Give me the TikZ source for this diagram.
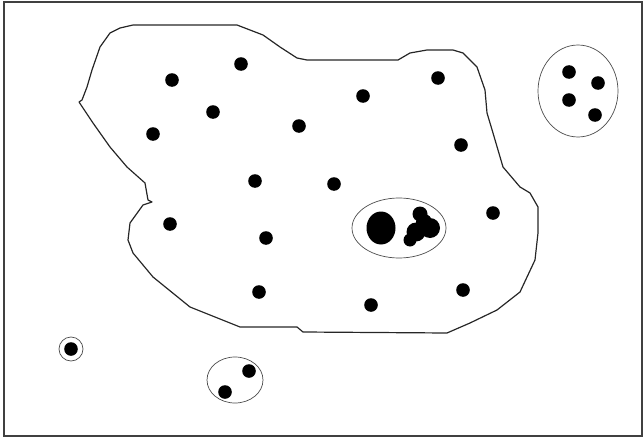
\documentclass[tikz,border=0pt]{standalone}
\usepackage{tikz}
\usetikzlibrary{calc}
\tikzset{
  frame/.style={draw=black!75,line width=1.4pt},
  region/.style={draw=black!85,line width=1.2pt,line join=round},
  grp/.style={draw=black!70,line width=0.7pt},
  pt/.style={fill=black},
}

\begin{document}
\begin{tikzpicture}[x=1pt,y=-1pt]
  \useasboundingbox (0,0) rectangle (643,439);
  \draw[frame] (4,2) rectangle (642,436);
  % the big region
  \draw[region] (133,25) -- (237,25) -- (263,35) -- (280,47) -- (297,58) -- (307,60)
    -- (398,60) -- (410,53) -- (427,50) -- (453,50) -- (463,53) -- (477,67)
    -- (485,90) -- (487,113) -- (493,133) -- (503,167) -- (520,187) -- (530,193)
    -- (538,207) -- (538,233) -- (535,260) -- (520,292) -- (497,310) -- (470,323)
    -- (447,333) -- (303,332) -- (297,327) -- (240,327) -- (210,315) -- (190,307)
    -- (153,277) -- (133,253) -- (128,240) -- (130,223) -- (143,205) -- (152,202)
    -- (148,200) -- (145,183) -- (127,167) -- (110,147) -- (93,123) -- (79,102)
    -- (82,100) -- (87,87) -- (92,70) -- (100,47) -- (110,33) -- (120,28) -- cycle;
  % single points
  \foreach \x/\y in {172/80,241/64,213/112,153/134,299/126,363/96,438/78,461/145,
    255/181,334/184,170/224,266/238,493/213,259/292,371/305,463/290}
    \fill[pt] (\x,\y) circle (6.8);
  % group top right
  \draw[grp] (578,91) ellipse (40 and 46);
  \foreach \x/\y in {569/72,598/83,569/100,595/115}
    \fill[pt] (\x,\y) circle (6.8);
  % group in the middle
  \draw[grp] (399,228) ellipse (47 and 30);
  \fill[pt] (381,228) ellipse (14.5 and 16.5);
  \fill[pt] (420,214) circle (7.5) (430,228) circle (10) (416,232) circle (9.5)
    (410,240) circle (6.5) (424,222) circle (8);
  % small groups bottom left
  \draw[grp] (71,349) circle (12);
  \fill[pt] (71,349) circle (6.8);
  \draw[grp] (235,380) ellipse (28 and 23);
  \foreach \x/\y in {249/371,225/392}
    \fill[pt] (\x,\y) circle (6.8);
\end{tikzpicture}
\end{document}
